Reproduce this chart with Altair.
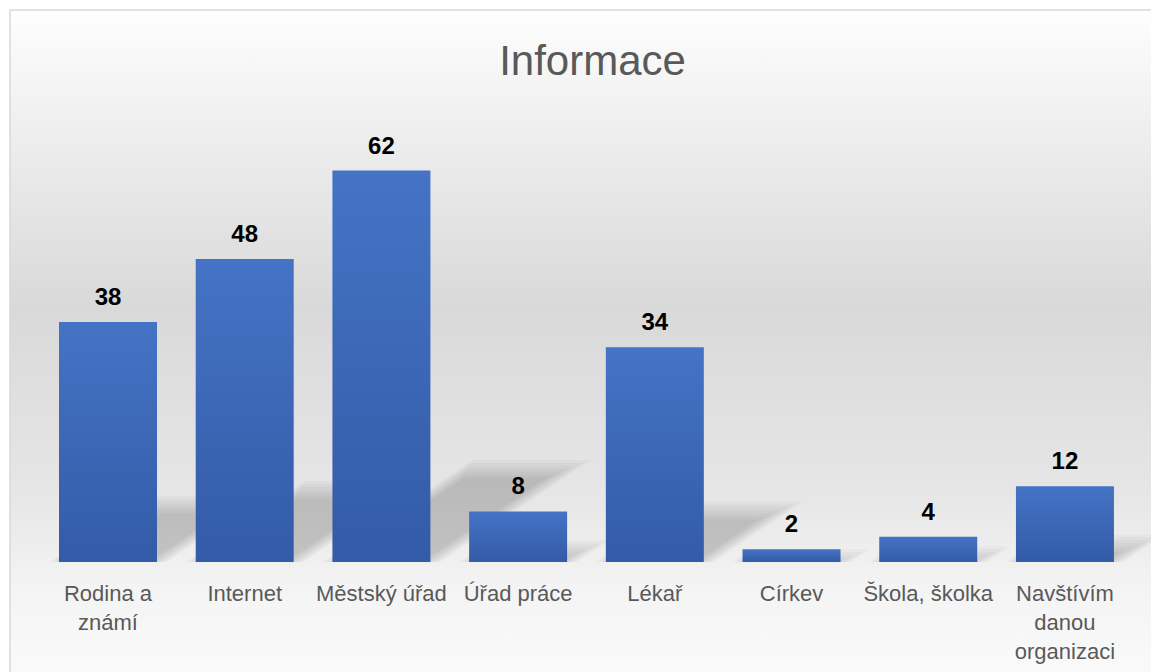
import altair as alt
import pandas as pd

# ---- data ----
categories = ["Rodina a\nznámí", "Internet", "Městský úřad", "Úřad práce",
              "Lékař", "Církev", "Škola, školka", "Navštívím\ndanou\norganizaci"]
values = [38, 48, 62, 8, 34, 2, 4, 12]
title_text = "Informace"

# ---- tables built from the lists ----
MARGIN = 0.1416          # gap on each side of a bar inside its category slot
PX_X = 136.7             # pixels per category unit
PX_Y = 6.314             # pixels per value unit
SH_RATIO = 0.235         # perspective shadow height as share of bar height
SH_SLANT = 1.47          # horizontal shift per pixel of shadow height
BLUR_STEPS = [-8, -5, -2, 1, 4, 7, 10]

bars = pd.DataFrame({
    "cat": categories,
    "value": values,
    "x0": [i + MARGIN for i in range(len(values))],
    "x1": [i + 1 - MARGIN for i in range(len(values))],
    "mid": [i + 0.5 for i in range(len(values))],
})
bars["zero"] = 0

rows = []
for i, v in enumerate(values):
    h_units = SH_RATIO * v
    dx_units = SH_SLANT * h_units * PX_Y / PX_X
    for k, e in enumerate(BLUR_STEPS):
        ex = e / PX_X
        ey = e / PX_Y
        sid = f"{i}-{k}"
        top = max(h_units + ey, 0.05)
        shift = dx_units * top / h_units
        rows.append({"sid": sid, "sy": 0.0,
                     "sx": i + MARGIN - ex, "sx2": i + 1 - MARGIN + ex})
        rows.append({"sid": sid, "sy": top,
                     "sx": i + MARGIN - ex + shift, "sx2": i + 1 - MARGIN + ex + shift})
shadows = pd.DataFrame(rows)

xscale = alt.Scale(domain=[0, 8], range=[29.65, 1123.3], nice=False, zero=False)
yscale = alt.Scale(domain=[0, 70], range=[552, 110], nice=False)

bar_grad = alt.Gradient(gradient="linear", x1=0, y1=0, x2=0, y2=1,
                        stops=[alt.GradientStop(color="#4573c5", offset=0),
                               alt.GradientStop(color="#335ba7", offset=1)])

bg_grad = alt.Gradient(gradient="linear", x1=0, y1=0, x2=0, y2=1,
                       stops=[alt.GradientStop(color="#fefefe", offset=0),
                              alt.GradientStop(color="#f3f3f3", offset=0.12),
                              alt.GradientStop(color="#d9d9d9", offset=0.43),
                              alt.GradientStop(color="#e6e6e6", offset=0.7),
                              alt.GradientStop(color="#f4f4f4", offset=0.84),
                              alt.GradientStop(color="#fcfcfc", offset=1)])

background = alt.Chart(pd.DataFrame({"panel": [title_text]})).mark_rect(
    fill=bg_grad, stroke="#d9d9d9", strokeWidth=1.5
).encode(
    x=alt.value(0), x2=alt.value(1160),
    y=alt.value(0), y2=alt.value(690),
)

shadow = alt.Chart(shadows).mark_area(orient="horizontal", color="black", opacity=0.027).encode(
    x=alt.X("sx:Q", scale=xscale, axis=None, stack=None),
    x2="sx2:Q",
    y=alt.Y("sy:Q", scale=yscale, axis=None),
    detail="sid:N",
)

bar = alt.Chart(bars).mark_rect(fill=bar_grad).encode(
    x=alt.X("x0:Q", scale=xscale, axis=None),
    x2="x1:Q",
    y=alt.Y("value:Q", scale=yscale, axis=None),
    y2="zero:Q",
)

vlabels = alt.Chart(bars).mark_text(
    font="Liberation Sans", fontSize=24, fontWeight="bold", color="#000000",
    baseline="alphabetic", align="center", dy=-17,
).encode(
    x=alt.X("mid:Q", scale=xscale, axis=None),
    y=alt.Y("value:Q", scale=yscale, axis=None),
    text="value:Q",
)

clabels = alt.Chart(bars).mark_text(
    font="Liberation Sans", fontSize=22, color="#595959",
    baseline="alphabetic", align="center", lineBreak="\n", lineHeight=29,
).encode(
    x=alt.X("mid:Q", scale=xscale, axis=None),
    y=alt.value(591),
    text="cat:N",
)

chart = alt.layer(background, shadow, bar, vlabels, clabels).properties(
    width=1141,
    height=662,
    title=alt.TitleParams(title_text, font="Liberation Sans", fontSize=42,
                          fontWeight="normal", color="#595959", anchor="middle",
                          baseline="alphabetic", offset=-68, dy=40, dx=12),
    autosize=alt.AutoSizeParams(type="none"),
    padding={"left": 10, "top": 10, "right": 0, "bottom": 0},
).configure_view(
    stroke=None,
).configure(background="#ffffff")

chart.save("out.html", embed_options={"renderer": "svg", "actions": False})
